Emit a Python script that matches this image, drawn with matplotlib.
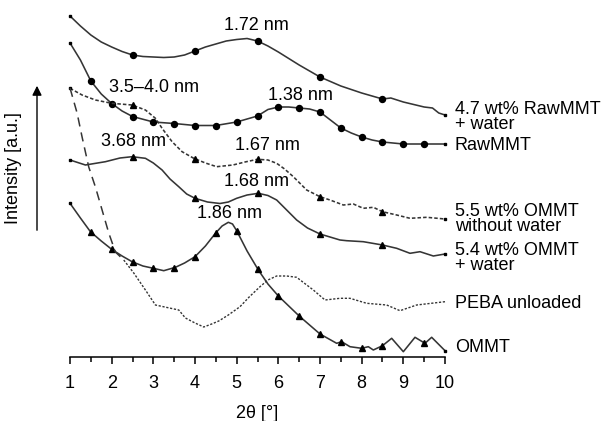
import numpy as np
import matplotlib
matplotlib.use("Agg")
import matplotlib.pyplot as plt

plt.rcParams['font.family'] = ['Liberation Sans', 'DejaVu Sans']

# 2theta [deg] and intensity [a.u.]
raw_water_x = [1.0, 1.1, 1.25, 1.5, 1.75, 2.0, 2.25, 2.5, 2.75, 3.0, 3.25, 3.5, 3.75, 4.0, 4.25,
               4.5, 4.75, 5.0, 5.25, 5.5, 5.75, 6.0, 6.5, 7.0, 7.5, 8.0, 8.5, 8.7, 9.0, 9.3,
               9.5, 9.7, 9.85, 10.0]
raw_water_y = [341, 337, 331, 322, 315, 310, 305.5, 302, 300.5, 300, 299.5, 300, 302, 306, 310,
               313, 316, 317.5, 318.5, 316, 311, 305, 292, 280, 271, 264, 258, 259, 255, 252,
               250, 249, 244, 242]

raw_x = [1.0, 1.25, 1.5, 1.75, 2.0, 2.25, 2.5, 3.0, 3.5, 4.0, 4.5, 5.0, 5.5, 5.75, 6.0, 6.25,
         6.5, 6.75, 7.0, 7.25, 7.5, 7.75, 8.0, 8.25, 8.5, 9.0, 9.5, 10.0]
raw_y = [314, 297, 276, 263, 253.5, 246, 240.5, 235, 233.5, 231.5, 231.5, 235, 241, 247.5, 250, 250,
         249, 248, 245, 237, 229, 224, 220, 217, 215, 213, 213, 213]

ommt_dry_x = [1.0, 1.29, 1.61, 2.0, 2.49, 2.81, 3.05, 3.21, 3.45, 3.69, 3.97, 4.25, 4.52, 4.91, 5.2,
              5.5, 5.75, 5.96, 6.15, 6.36, 6.68, 7.0, 7.24, 7.56, 7.8, 8.04, 8.28, 8.5, 8.84, 9.16,
              9.56, 10.0]
ommt_dry_y = [268.7, 262, 257, 253.7, 252, 247, 238.7, 228.7, 215.3, 205.3, 198.7, 194, 190.3, 192, 195,
              197.7, 197, 193.7, 188, 180.3, 167, 160.3, 157, 152, 153, 148.7, 149.7, 145.3, 142, 138.7,
              139.7, 138]

ommt_wet_x = [1.0, 1.37, 1.85, 2.2, 2.49, 2.81, 3.0, 3.21, 3.4, 3.61, 3.8, 4.0, 4.3, 4.6, 4.8, 5.0,
              5.25, 5.52, 5.75, 5.96, 6.2, 6.44, 6.7, 7.0, 7.48, 7.64, 8.04, 8.5, 8.84, 9.16, 9.4,
              9.72, 10.0]
ommt_wet_y = [197, 192, 195.3, 199, 200.3, 198.7, 194, 187, 178, 170.3, 163, 158.7, 155, 153.5, 155, 158.7,
              162, 163.7, 161.5, 157, 147, 137, 129, 123, 117, 116.3, 115.3, 112, 108.7, 103.7, 105.3,
              101, 103]

ommt_x = [1.0, 1.25, 1.49, 1.75, 2.0, 2.25, 2.49, 2.75, 3.0, 3.25, 3.53, 3.75, 4.0, 4.25, 4.49, 4.65,
          4.8, 4.9, 5.0, 5.25, 5.52, 5.75, 6.0, 6.5, 7.0, 7.4, 7.52, 7.72, 8.0, 8.16, 8.28, 8.5,
          8.72, 9.0, 9.28, 9.52, 9.68, 10.0]
ommt_y = [153.7, 139, 125.3, 116, 107.7, 101, 95.3, 91, 88.7, 86.3, 89.7, 94, 100.3, 111, 123.7, 131,
          134.7, 133, 126.3, 106, 87, 73, 61, 41, 23, 13.7, 15.3, 10.3, 8.7, 10.3, 7, 11.3,
          18.7, 5.3, 19.7, 13.7, 19.7, 6.3]

peba_x = [1.0, 1.17, 1.29, 1.45, 1.61, 1.77, 1.93, 2.09, 2.29, 2.53, 2.81, 3.05, 3.61, 3.77, 4.0,
          4.21, 4.4, 4.57, 4.8, 5.08, 5.3, 5.56, 5.75, 5.96, 6.2, 6.44, 6.65, 6.84, 7.12, 7.48,
          7.72, 8.12, 8.6, 8.92, 9.32, 10.0]
peba_y = [269, 244, 220, 190, 170, 147, 124, 105, 97, 84, 67, 52, 47, 39, 34,
          30, 33, 36, 42, 50.3, 60, 70.3, 77, 81, 81, 79.7, 73, 67, 57, 58.7,
          58.7, 53.7, 52, 46.3, 52, 55.3]
peba_dash_end = 2.29

sparse_marks = [2.5, 4.0, 5.5, 7.0, 8.5]
raw_marks = list(np.arange(1.5, 10.0, 0.5))
ommt_marks = [1.5, 2.0, 2.5, 3.0, 3.5, 4.0, 4.5, 5.0, 5.5, 6.0, 6.5, 7.0, 7.5, 8.0, 8.5, 9.5]

peaks = [("1.72 nm", 5.48, 331), ("3.5–4.0 nm", 3.02, 269), ("1.38 nm", 6.52, 262),
         ("3.68 nm", 2.53, 215), ("1.67 nm", 5.75, 212), ("1.68 nm", 5.48, 175),
         ("1.86 nm", 4.83, 143)]

names = ["4.7 wt% RawMMT\n+ water", "RawMMT", "5.5 wt% OMMT\nwithout water",
         "5.4 wt% OMMT\n+ water", "PEBA unloaded", "OMMT"]
name_y = [240, 211, 138, 99, 54, 10]

line_col = "#353535"
fs = 13

fig = plt.figure(figsize=(6.06, 4.21), dpi=100)
ax = fig.add_axes([70 / 606, 64 / 421, 375 / 606, 357 / 421])


def curve(x, y, ls, marker=None, marks=None):
    ax.plot(x, y, color=line_col, lw=1.15, ls=ls, clip_on=False,
            marker="s", ms=1.6, markevery=[0, len(x) - 1], mfc="black", mec="black")
    if marker:
        ax.plot(marks, np.interp(marks, x, y), ls="none", marker=marker,
                ms=4.3 if marker == "o" else 4.6, color="black", clip_on=False)


curve(raw_water_x, raw_water_y, "-", "o", sparse_marks)
curve(raw_x, raw_y, "-", "o", raw_marks)
curve(ommt_dry_x, ommt_dry_y, (0, (2.2, 1.3)), "^", sparse_marks)
curve(ommt_wet_x, ommt_wet_y, "-", "^", sparse_marks)
curve(ommt_x, ommt_y, "-", "^", ommt_marks)

# PEBA: long dashes on the steep part, fine dots after
px = np.array(peba_x)
py = np.array(peba_y)
k = np.searchsorted(px, peba_dash_end) + 1
ax.plot(px[:k], py[:k], color=line_col, lw=1.1, ls=(0, (6, 4)), clip_on=False)
ax.plot(px[k - 1:], py[k - 1:], color=line_col, lw=1.0, ls=(0, (1.6, 1.2)), clip_on=False)

for txt, x, y in peaks:
    ax.text(x, y, txt, fontsize=fs, ha="center", va="center")

for txt, y in zip(names, name_y):
    ax.text(10.24, y, txt, fontsize=fs, ha="left", va="center", linespacing=0.82, clip_on=False)

ax.set_xlim(1, 10)
ax.set_ylim(0, 357)
for s in ["left", "right", "top"]:
    ax.spines[s].set_visible(False)
ax.spines["bottom"].set_linewidth(1.1)
ax.set_yticks([])
ax.set_xticks(range(1, 11))
ax.set_xticks(np.arange(1.5, 10, 1.0), minor=True)
ax.tick_params(axis="x", which="major", direction="out", length=5, width=1.1, labelsize=fs, pad=8)
ax.tick_params(axis="x", which="minor", direction="out", length=3.5, width=1.1)
ax.set_xlabel("2θ [°]", fontsize=fs, labelpad=9)

# intensity arrow on the left
ax.annotate("", xy=(0.208, 274), xytext=(0.208, 124),
            arrowprops=dict(arrowstyle="-|>", color="black", lw=1.0, mutation_scale=14),
            annotation_clip=False)
ax.text(-0.36, 189, "Intensity [a.u.]", fontsize=fs, rotation=90, ha="center", va="center")

fig.savefig("out.png", dpi=100)
